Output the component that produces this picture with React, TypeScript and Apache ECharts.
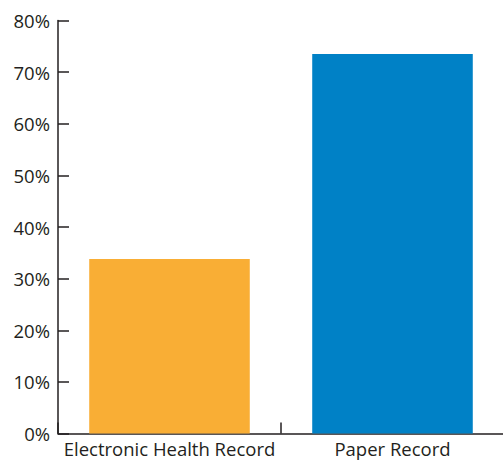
import React, { useEffect, useRef } from "react";
import * as echarts from "echarts";

const categories = ["Electronic Health Record", "Paper Record"];
const values = [33.8, 73.5];
const colors = ["#F9AE35", "#0081C6"];
const yTicks = { min: 0, max: 80, interval: 10 };

export default function App() {
  const ref = useRef<HTMLDivElement>(null);
  useEffect(() => {
    const chart = echarts.init(ref.current!, undefined, { renderer: "svg" });
    const axisColor = "#231f20";
    const font = "'Open Sans', 'Noto Sans', sans-serif";
    chart.setOption({
      animation: false,
      grid: { left: 58, right: -1, top: 20.5, bottom: 26.5, containLabel: false, outerBoundsMode: "none" },
      xAxis: {
        type: "category",
        data: categories,
        axisLine: { lineStyle: { color: axisColor, width: 1.5 } },
        axisTick: { show: true, inside: true, interval: 0, length: 11, lineStyle: { color: axisColor, width: 1.5 } },
        axisLabel: { interval: 0, color: "#231f20", fontSize: 18.5, fontFamily: font, margin: 5 },
      },
      yAxis: {
        type: "value",
        min: yTicks.min,
        max: yTicks.max,
        interval: yTicks.interval,
        splitLine: { show: false },
        axisLine: { show: true, lineStyle: { color: axisColor, width: 1.5 } },
        axisTick: { show: true, inside: true, length: 11, lineStyle: { color: axisColor, width: 1.5 } },
        axisLabel: { color: "#231f20", fontSize: 18.5, fontFamily: font, margin: 8, formatter: "{value}%" },
      },
      series: [
        {
          type: "bar",
          data: values.map((v, i) => ({ value: v, itemStyle: { color: colors[i] } })),
          barWidth: "72%",
        },
      ],
    });
    return () => chart.dispose();
  }, []);
  return <div ref={ref} style={{ width: 503, height: 460, position: "absolute", left: 0, top: 0 }} />;
}
